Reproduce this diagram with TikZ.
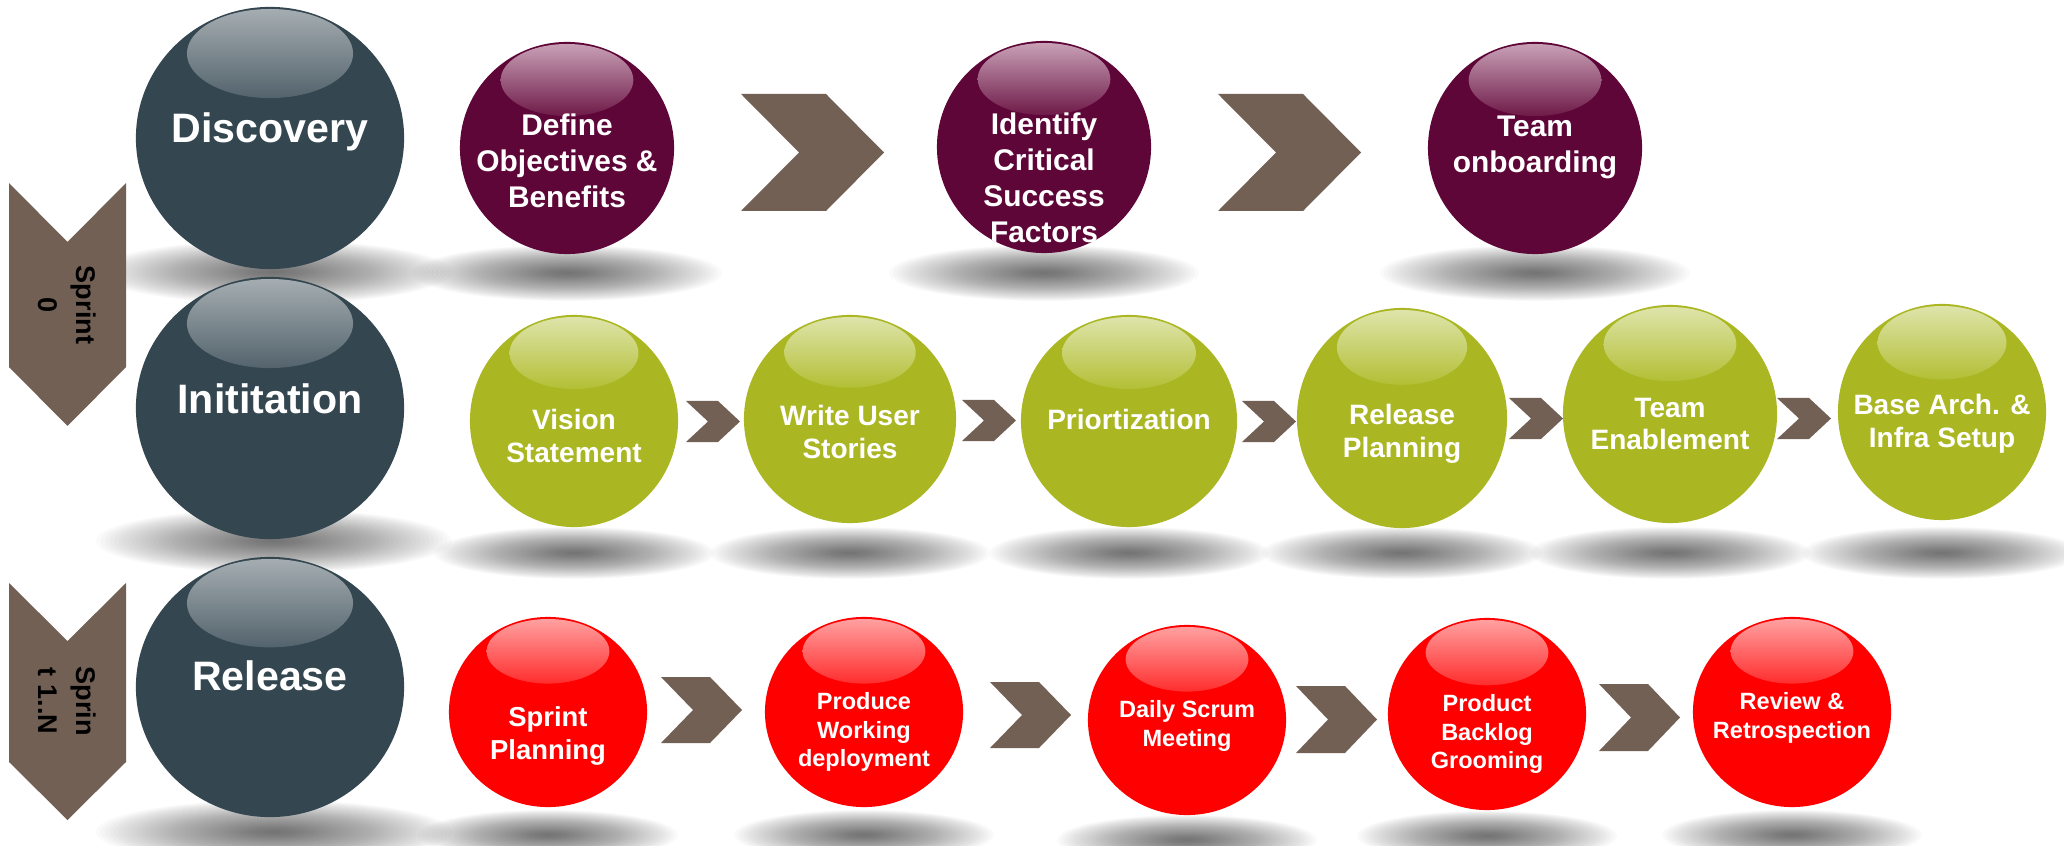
\documentclass[tikz,border=0pt]{standalone}
\usepackage{fontspec}
\setmainfont{Liberation Sans}
\usetikzlibrary{shapes.geometric}
\definecolor{slatec}{HTML}{344650}
\definecolor{slatehi}{HTML}{A5ADB1}
\definecolor{slatelo}{HTML}{53636C}
\definecolor{maroonc}{HTML}{5E0638}
\definecolor{maroonhi}{HTML}{C8A0B6}
\definecolor{maroonlo}{HTML}{6E1A48}
\definecolor{olivec}{HTML}{AAB723}
\definecolor{olivehi}{HTML}{DEE4AA}
\definecolor{olivelo}{HTML}{B3BF35}
\definecolor{redc}{HTML}{FF0000}
\definecolor{redhi}{HTML}{FFA0A0}
\definecolor{redlo}{HTML}{FF2D2D}
\definecolor{chevc}{HTML}{726055}
% glass ball: name, x, y, rx, ry, base colour prefix
\newcommand\gball[6]{%
  \node[ellipse, inner sep=0pt, fill=#6c, minimum width={#4*0.02cm}, minimum height={#5*0.02cm}] (#1) at (#2,#3) {};
  \shade[top color=#6hi, bottom color=#6lo] ({#2},{#3-0.66*#5+2}) ellipse ({0.62*#4} and {0.34*#5});
}
% soft shadow: x, y, rx, ry
\newcommand\gshadow[4]{\foreach \k in {1,...,40}{\fill[shadowfx] (#1,#2) ellipse ({#3*\k/40} and {#4*\k/40});}}
% horizontal chevron: left, top, bottom, width, straight part
\newcommand\hchev[5]{\fill[chevfill] (#1,#2) -- ({#1+#5},#2) -- ({#1+#4},{(#2+#3)/2}) -- ({#1+#5},#3) -- (#1,#3) -- ({#1+#4-#5},{(#2+#3)/2}) -- cycle;}
% vertical chevron: left, right, top, total height, straight part
\newcommand\vchev[5]{\fill[chevfill] (#1,#3) -- ({(#1+#2)/2},{#3+#4-#5}) -- (#2,#3) -- (#2,{#3+#5}) -- ({(#1+#2)/2},{#3+#4}) -- (#1,{#3+#5}) -- cycle;}
\begin{document}
\begin{tikzpicture}[x=0.01cm,y=-0.01cm,
  shadowfx/.style={fill=black, fill opacity=0.018},
  chevfill/.style={fill=chevc},
  bigtxt/.style={text=white, font=\bfseries\fontsize{11.7}{13}\selectfont, anchor=base},
  tone/.style={text=white, align=center, font=\bfseries\fontsize{8.5}{10.24}\selectfont},
  ttwo/.style={text=white, align=center, font=\bfseries\fontsize{7.97}{9.25}\selectfont},
  tthree/.style={text=white, align=center, font=\bfseries\fontsize{6.69}{8.1}\selectfont},
  sidetxt/.style={text=black, align=center, rotate=-90, font=\bfseries\fontsize{7.7}{10.8}\selectfont}]
\useasboundingbox (0,0) rectangle (2064,846);

% shadows
\gshadow{274}{272}{178}{32}
\gshadow{274}{541}{178}{32}
\gshadow{274}{832}{178}{32}
\foreach \cx in {567,1044,1535} {\gshadow{\cx}{273}{155}{28}}
\foreach \cx in {574,850,1129,1402,1670,1942} {\gshadow{\cx}{553}{140}{26}}
\foreach \cx/\cy in {548/835,864/835,1187/840,1487/836,1792/835} {\gshadow{\cx}{\cy}{130}{25}}

% side chevrons
\vchev{9}{126}{183}{243}{184}
\vchev{9}{126}{583}{237}{179}

% big balls
\gball{disc}{270}{138}{134}{131}{slate}
\gball{init}{270}{408}{134}{131}{slate}
\gball{rel}{270}{687}{134}{130}{slate}

% row 1
\gball{define}{567}{148}{107}{106}{maroon}
\gball{identify}{1044}{147}{107}{106}{maroon}
\gball{onboard}{1535}{148}{107}{106}{maroon}
\hchev{741}{94}{211}{143}{85}
\hchev{1218}{94}{211}{143}{85}

% row 2
\gball{vision}{574}{421}{104}{106}{olive}
\gball{stories}{850}{419}{106}{104}{olive}
\gball{prior}{1129}{421}{108}{106}{olive}
\gball{relplan}{1402}{418}{105}{110}{olive}
\gball{enable}{1670}{414}{107}{109}{olive}
\gball{infra}{1942}{412}{104}{108}{olive}
\hchev{686}{401}{442}{54}{32}
\hchev{962}{400}{441}{54}{32}
\hchev{1242}{401}{442}{54}{32}
\hchev{1509}{398}{439}{54}{32}
\hchev{1777}{398}{439}{54}{32}

% row 3
\gball{sprintplan}{548}{712}{99}{95}{red}
\gball{produce}{864}{712}{99}{95}{red}
\gball{scrum}{1187}{720}{99}{95}{red}
\gball{backlog}{1487}{714}{99}{96}{red}
\gball{review}{1792}{712}{99}{95}{red}
\hchev{661}{677}{743}{81}{49}
\hchev{990}{682}{748}{81}{49}
\hchev{1296}{686}{753}{81}{49}
\hchev{1599}{684}{751}{81}{49}

% texts
\node[sidetxt] (s0) at (67,305) {Sprint\\0};
\node[sidetxt] (s1) at (67,701) {Sprin\\t 1..N};
\node[bigtxt] (tdisc) at (270,143) {Discovery};
\node[bigtxt] (tinit) at (270,413) {Inititation};
\node[bigtxt] (trel) at (270,690) {Release};

\node[tone] (tdefine) at (567,161) {Define\\Objectives \&\\Benefits};
\begin{scope}
\clip (1044,147) ellipse (107 and 106);
\node[tone] (tidentify) at (1044,178) {Identify\\Critical\\Success\\Factors};
\end{scope}
\node[tone] (tonboard) at (1535,147) {Team\\onboarding};

\node[ttwo] (tvision) at (574,436) {Vision\\Statement};
\node[ttwo] (tstories) at (850,432) {Write User\\Stories};
\node[ttwo] (tprior) at (1129,419) {Priortization};
\node[ttwo] (trelplan) at (1402,434) {Release\\Planning};
\node[ttwo] (tenable) at (1670,424) {Team\\Enablement};
\node[ttwo] (tinfra) at (1942,424) {Base Arch. \&\\Infra Setup};

\node[ttwo, font=\bfseries\fontsize{7.8}{9.6}\selectfont] (tsprint) at (548,736) {Sprint\\Planning};
\node[tthree] (tproduce) at (864,732) {Produce\\Working\\deployment};
\node[tthree] (tscrum) at (1187,726) {Daily Scrum\\Meeting};
\node[tthree] (tbacklog) at (1487,734) {Product\\Backlog\\Grooming};
\node[tthree] (treview) at (1792,718) {Review \&\\Retrospection};
\end{tikzpicture}
\end{document}
